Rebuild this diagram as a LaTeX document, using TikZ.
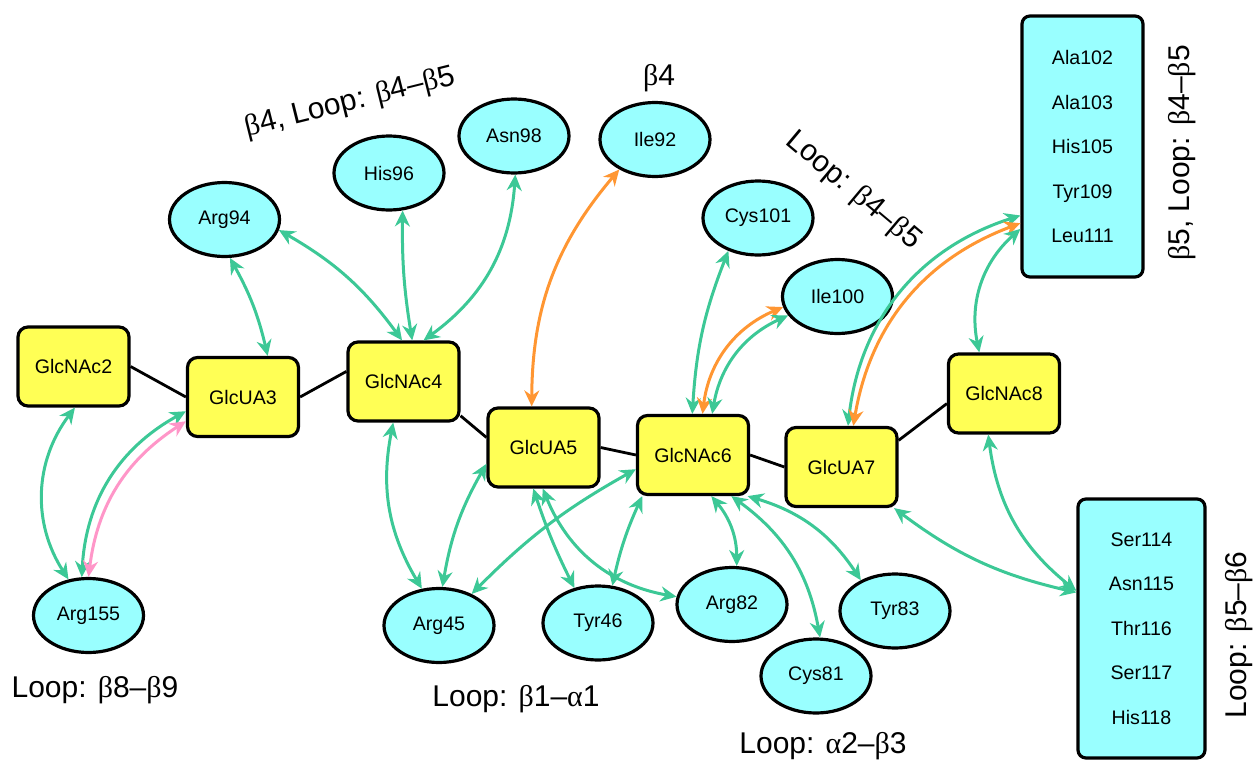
\documentclass[tikz,border=0pt]{standalone}
\usepackage{fontspec}
\setmainfont{Liberation Sans}
\newfontfamily\greekfont{Liberation Serif}
\usepackage{xcolor}
\usepackage{tikz}
\usetikzlibrary{shapes.geometric, arrows.meta}
\definecolor{sugaryellow}{RGB}{255,255,85}
\definecolor{rescyan}{RGB}{153,255,255}
\definecolor{hbgreen}{RGB}{60,200,150}
\definecolor{hborange}{RGB}{255,150,50}
\definecolor{hbpink}{RGB}{255,150,200}
\newcommand{\gb}{{\greekfont β}}
\newcommand{\ga}{{\greekfont α}}
\tikzset{
    sugar/.style={rectangle, draw, line width=1.6pt, fill=sugaryellow, rounded corners=5pt, minimum width=55.5pt, minimum height=39.5pt, font=\fontsize{9.8}{11.5}\selectfont},
    residue/.style={ellipse, draw, line width=1.6pt, fill=rescyan, minimum width=55pt, minimum height=37pt, inner sep=0pt, font=\fontsize{9.8}{11.5}\selectfont},
    resgroup/.style={rectangle, draw, line width=1.6pt, fill=rescyan, rounded corners=4pt, align=center, font=\fontsize{9.8}{22.25}\selectfont},
    bond/.style={line width=1.4pt},
    arrow/.style={<->, >={Stealth[length=8pt, width=7.5pt, inset=2.6pt]}, line width=1.5pt, draw=hbgreen},
    orangearrow/.style={arrow, draw=hborange},
    pinkarrow/.style={arrow, draw=hbpink},
    looplabel/.style={font=\fontsize{15}{18}\selectfont},
}

\begin{document}
\begin{tikzpicture}[x=0.5pt, y=-0.5pt]
        \useasboundingbox (0,0) rectangle (1255,760);

        % Sugar chain
        \node[sugar] (glcnac2) at (73.5,366.5) {GlcNAc2};
        \node[sugar] (glcua3) at (243,397) {GlcUA3};
        \node[sugar] (glcnac4) at (403.5,381.5) {GlcNAc4};
        \node[sugar] (glcua5) at (543.5,447.5) {GlcUA5};
        \node[sugar] (glcnac6) at (693,455) {GlcNAc6};
        \node[sugar] (glcua7) at (841.5,467) {GlcUA7};
        \node[sugar] (glcnac8) at (1004,393.5) {GlcNAc8};

        % Residues
        \node[residue] (arg94) at (224.5,219.5) {Arg94};
        \node[residue] (his96) at (389,173) {His96};
        \node[residue] (asn98) at (514,136) {Asn98};
        \node[residue] (ile92) at (655,139.5) {Ile92};
        \node[residue] (cys101) at (758,218) {Cys101};
        \node[residue] (ile100) at (837.5,296.5) {Ile100};
        \node[residue] (arg155) at (88.5,615.5) {Arg155};
        \node[residue] (arg45) at (439,625.5) {Arg45};
        \node[residue] (tyr46) at (598,623) {Tyr46};
        \node[residue] (arg82) at (732,604.5) {Arg82};
        \node[residue] (cys81) at (816,676) {Cys81};
        \node[residue] (tyr83) at (895,611) {Tyr83};

        % Residue groups
        \node[resgroup, minimum width=60.5pt, minimum height=130.5pt] (beta5) at (1082.5,146.5) {Ala102\\Ala103\\His105\\Tyr109\\Leu111};
        \node[resgroup, minimum width=63.5pt, minimum height=129.5pt] (loop56) at (1141.5,628.5) {Ser114\\Asn115\\Thr116\\Ser117\\His118};

        % Labels
        \node[looplabel, rotate=14] (lblb4loop) at (350,103) {\gb4, Loop: \gb4--\gb5};
        \node[looplabel] (lblb4) at (659,78) {\gb4};
        \node[looplabel, rotate=-40] (lblloop45) at (853,191) {Loop: \gb4--\gb5};
        \node[looplabel, rotate=90] (lblb5loop) at (1182,153) {\gb5, Loop: \gb4--\gb5};
        \node[looplabel, rotate=90] (lblloop56) at (1239,635) {Loop: \gb5--\gb6};
        \node[looplabel] (lblloop89) at (95,690) {Loop: \gb8--\gb9};
        \node[looplabel] (lblloop11) at (516,699) {Loop: \gb1--\ga1};
        \node[looplabel] (lblloop23) at (823,746) {Loop: \ga2--\gb3};

        % Glycosidic bonds
        \draw[bond] (glcnac2.east) -- (glcua3.west);
        \draw[bond] (glcua3.east) -- (glcnac4.170);
        \draw[bond] (glcnac4.-31) -- (glcua5.170);
        \draw[bond] (glcua5.east) -- (glcnac6.west);
        \draw[bond] (glcnac6.east) -- (glcua7.west);
        \draw[bond] (glcua7.25) -- (glcnac8.-170);

        % Contacts
        \draw[arrow] (glcnac2.-88) to[bend right=35] (arg155.119);
        \draw[arrow] (glcua3.-166) to[bend right=29] (arg155.100);
        \draw[pinkarrow] (glcua3.-157) to[bend right=25] (arg155.north);
        \draw[arrow] (arg94.-82) to[bend left=8] (glcua3.59);
        \draw[arrow] (arg94.-11) to[bend left=12] (glcnac4.92);
        \draw[arrow] (his96.-70) to[bend right=5] (glcnac4.78);
        \draw[arrow] (asn98.-88) to[bend left=25] (glcnac4.64);
        \draw[orangearrow] (ile92.-140) to[bend right=20] (glcua5.106);
        \draw[arrow] (glcnac4.-104) to[bend right=21] (arg45.115);
        \draw[arrow] (glcua5.-164) to[bend right=10] (arg45.85);
        \draw[arrow] (glcnac6.-166) to[bend right=8] (arg45.44);
        \draw[arrow] (glcua5.-104) to[bend right=4] (tyr46.124);
        \draw[arrow] (glcua5.-91) to[bend right=29] (arg82.172);
        \draw[arrow] (glcnac6.-141) to[bend right=6] (tyr46.69);
        \draw[arrow] (glcnac6.-66) to[bend left=20] (arg82.83);
        \draw[arrow] (glcnac6.-47) to[bend left=22] (cys81.84);
        \draw[arrow] (glcnac6.-37) to[bend left=20] (tyr83.138);
        \draw[arrow] (cys101.-132) to[bend right=9] (glcnac6.91);
        \draw[orangearrow] (glcnac6.77) to[bend left=30] (ile100.-169);
        \draw[arrow] (glcnac6.65) to[bend left=28] (ile100.-159);
        \draw[arrow] (glcua7.81) to[bend left=33] (beta5.-132);
        \draw[orangearrow] (glcua7.74) to[bend left=30] (beta5.-129);
        \draw[arrow] (beta5.-127) to[bend right=30] (glcnac8.121);
        \draw[arrow] (glcua7.-38) to[bend right=12] (loop56.151);
        \draw[arrow] (glcnac8.-111) to[bend right=22] (loop56.150);
    \end{tikzpicture}
\end{document}
